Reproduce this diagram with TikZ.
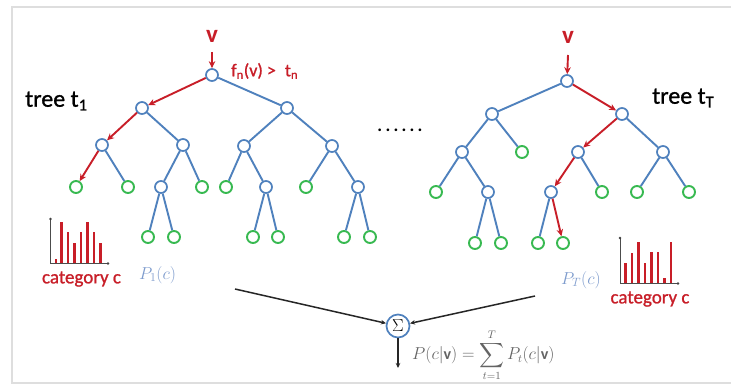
\documentclass[tikz,border=0pt]{standalone}
\usepackage{amsmath}
\usepackage{exscale}
\usepackage{fontspec}
\setmainfont{Carlito}
\usetikzlibrary{arrows.meta}
\definecolor{nodeblue}{RGB}{79,129,189}
\definecolor{leafgreen}{RGB}{55,185,80}
\definecolor{arrred}{RGB}{200,30,40}
\definecolor{pblue}{RGB}{125,155,205}
\definecolor{fgrey}{RGB}{100,100,100}
\definecolor{framegrey}{RGB}{222,222,222}
\begin{document}
\begin{tikzpicture}[x={(1pt,0)},y={(0,-1pt)},
  inner/.style={circle,draw=nodeblue,fill=white,line width=1.7pt,minimum size=12pt,inner sep=0pt},
  leaf/.style={circle,draw=leafgreen,fill=white,line width=1.9pt,minimum size=12pt,inner sep=0pt},
  edge/.style={draw=nodeblue,line width=1.9pt},
  redarrow/.style={draw=arrred,line width=1.9pt,-{Stealth[length=7pt,width=6.5pt]}},
  blackarrow/.style={draw=black!85,line width=1.5pt,-{Stealth[length=5pt,width=4.5pt]}},
  bar/.style={draw=arrred,line width=2.2pt},
  axis/.style={draw=black!70,line width=0.9pt},
  lbl/.style={inner sep=0pt},
]
\useasboundingbox (0,0) rectangle (731,385);
\fill[white] (0,0) rectangle (731,385);
\draw[framegrey,line width=1.2pt] (731,7) -- (12,7) -- (12,383) -- (731,383);

% ---------------- tree 1 ----------------
\node[inner] (a0) at (212,75) {};
\node[inner] (a1) at (142,108) {};
\node[inner] (a2) at (287,108) {};
\node[inner] (a11) at (102,145) {};
\node[inner] (a12) at (183,145) {};
\node[inner] (a21) at (244,146) {};
\node[inner] (a22) at (332,146) {};
\node[leaf] (l111) at (76,187) {};
\node[leaf] (l112) at (128,187) {};
\node[inner] (a121) at (161,187) {};
\node[leaf] (l122) at (202,187) {};
\node[leaf] (l211) at (226,187) {};
\node[inner] (a212) at (266,187) {};
\node[leaf] (l221) at (306,187) {};
\node[inner] (a222) at (358,187) {};
\node[leaf] (l1211) at (148,237) {};
\node[leaf] (l1212) at (174,237) {};
\node[leaf] (l2121) at (253,237) {};
\node[leaf] (l2122) at (278,237) {};
\node[leaf] (l2221) at (344,237) {};
\node[leaf] (l2222) at (370,237) {};

\path[edge] (a0) -- (a2) (a1) -- (a12) (a11) -- (l112)
  (a12) -- (a121) (a12) -- (l122) (a121) -- (l1211) (a121) -- (l1212)
  (a2) -- (a21) (a2) -- (a22) (a21) -- (l211) (a21) -- (a212)
  (a212) -- (l2121) (a212) -- (l2122) (a22) -- (l221) (a22) -- (a222)
  (a222) -- (l2221) (a222) -- (l2222);
\path[redarrow] (a0) -- (a1);
\path[redarrow] (a1) -- (a11);
\path[redarrow] (a11) -- (l111);

\node[lbl,text=arrred,font=\bfseries\fontsize{25}{25}\selectfont] (v1) at (212,36) {v};
\path[redarrow] (212,52) -- (a0);
\node[lbl,text=arrred,anchor=west,font=\fontsize{18}{18}\selectfont\addfontfeature{FakeBold=1}] (fn) at (231,71) {f\textsubscript{n}(v) >\; t\textsubscript{n}};
\node[lbl,anchor=west,font=\fontsize{24}{24}\selectfont\addfontfeature{FakeBold=1}] (t1) at (25,101) {tree t\textsubscript{1}};

% ---------------- tree T ----------------
\node[inner] (b0) at (567,81) {};
\node[inner] (b1) at (492,114) {};
\node[inner] (b2) at (622,114) {};
\node[inner] (b11) at (462,152) {};
\node[leaf] (lb12) at (522,152) {};
\node[inner] (b21) at (578,152) {};
\node[inner] (b22) at (663,152) {};
\node[leaf] (lb111) at (436,192) {};
\node[inner] (b112) at (488,192) {};
\node[inner] (b211) at (551,192) {};
\node[leaf] (lb212) at (602,192) {};
\node[leaf] (lb221) at (637,192) {};
\node[leaf] (lb222) at (689,192) {};
\node[leaf] (lb1121) at (475,243) {};
\node[leaf] (lb1122) at (501,243) {};
\node[leaf] (lb2111) at (538,243) {};
\node[leaf] (lb2112) at (563,243) {};

\path[edge] (b0) -- (b1) (b1) -- (b11) (b1) -- (lb12)
  (b11) -- (lb111) (b11) -- (b112) (b112) -- (lb1121) (b112) -- (lb1122)
  (b21) -- (lb212) (b2) -- (b22) (b22) -- (lb221) (b22) -- (lb222)
  (b211) -- (lb2111);
\path[redarrow] (b0) -- (b2);
\path[redarrow] (b2) -- (b21);
\path[redarrow] (b21) -- (b211);
\path[redarrow] (b211) -- (lb2112);

\node[lbl,text=arrred,font=\bfseries\fontsize{25}{25}\selectfont] (v2) at (568,37) {v};
\path[redarrow] (568,55) -- (b0);
\node[lbl,anchor=west,font=\fontsize{24}{24}\selectfont\addfontfeature{FakeBold=1}] (tT) at (652,98) {tree t\textsubscript{T}};

\node[lbl,font=\bfseries\fontsize{18}{18}\selectfont\addfontfeature{LetterSpace=18}] (dots) at (400,130) {......};

% ---------------- histograms ----------------
\draw[axis] (50.5,219) -- (50.5,263.5) -- (108,263.5);
\fill[black!75] (50.5,219) circle (1.3pt) (108,263.5) circle (1.3pt);
\foreach \x/\t in {56/259,61.5/222,68/232,74.5/243,81/232,87.5/222,94/232,100.5/243}
  \draw[bar] (\x,263) -- (\x,\t);
\node[lbl,text=arrred,font=\fontsize{19}{19}\selectfont\addfontfeature{FakeBold=1}] (cat1) at (81.5,279) {category c};
\node[lbl,text=pblue,anchor=west,font=\fontsize{17}{17}\selectfont] (p1) at (139,275) {$P_1(c)$};

\draw[axis] (620,238) -- (620,283.5) -- (678,283.5);
\fill[black!75] (620,238) circle (1.3pt) (678,283.5) circle (1.3pt);
\foreach \x/\t in {625.5/263,632/253,638.5/242,645/263,651.5/252,658/252,664.5/278,671/242}
  \draw[bar] (\x,283) -- (\x,\t);
\node[lbl,text=arrred,font=\fontsize{19}{19}\selectfont\addfontfeature{FakeBold=1}] (catT) at (650,299) {category c};
\node[lbl,text=pblue,anchor=west,font=\fontsize{17}{17}\selectfont] (pT) at (561,280) {$P_T(c)$};

% ---------------- combination ----------------
\node[circle,draw=nodeblue,fill=white,line width=1.7pt,minimum size=23pt,inner sep=0pt,font=\fontsize{18}{18}\selectfont] (sig) at (398,326) {$\Sigma$};
\coordinate (s1) at (235,289);
\coordinate (s2) at (535,296);
\coordinate (s3) at (398,368);
\path[blackarrow] (s1) -- (sig);
\path[blackarrow] (s2) -- (sig);
\path[blackarrow] (sig) -- (s3);
\node[lbl,text=fgrey,anchor=west,font=\fontsize{16}{16}\selectfont] (form) at (412,355) {$\displaystyle P(c|\mathbf{v}) = \sum_{t=1}^{T} P_t(c|\mathbf{v})$};
\end{tikzpicture}
\end{document}
